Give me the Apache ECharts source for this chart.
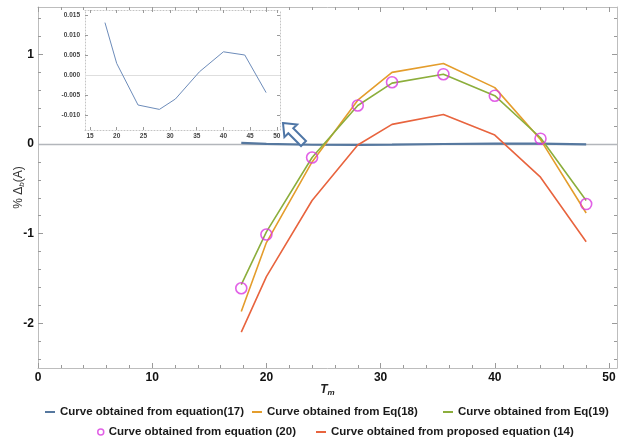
<!DOCTYPE html>
<html>
<head>
<meta charset="utf-8">
<script src="https://cdn.jsdelivr.net/npm/echarts@6/dist/echarts.min.js"></script>
<style>
  html, body { margin: 0; padding: 0; background: #fff; }
  #chart { width: 619px; height: 446px; }
</style>
</head>
<body>
<div id="chart"></div>
<script>
// Melting temperature samples and the relative deviation from each model
const tm   = [17.8, 20, 24, 28, 31, 35.5, 40, 44, 48];
const eq17 = [0.0131, 0.0029, -0.0075, -0.0086, -0.0060, 0.0008, 0.0058, 0.0050, -0.0044];
const eq18 = [-1.87, -1.10, -0.20, 0.49, 0.80, 0.90, 0.63, 0.05, -0.77];
const eq19 = [-1.57, -0.98, -0.15, 0.43, 0.68, 0.78, 0.54, 0.07, -0.63];
const eq20 = [-1.61, -1.01, -0.15, 0.43, 0.69, 0.78, 0.54, 0.06, -0.67];
const eq14 = [-2.10, -1.48, -0.63, -0.01, 0.22, 0.33, 0.10, -0.37, -1.09];

// Tick labels of the main frame and of the inset
const xTicks = [0, 10, 20, 30, 40, 50];
const yTicks = [-2, -1, 0, 1];
const insetXTicks = [15, 20, 25, 30, 35, 40, 45, 50];
const insetYTicks = [-0.010, -0.005, 0.000, 0.005, 0.010, 0.015];

const N17 = 'Curve obtained from equation(17)';
const N18 = 'Curve obtained from Eq(18)';
const N19 = 'Curve obtained from Eq(19)';
const N20 = 'Curve obtained from equation (20)';
const N14 = 'Curve obtained from proposed equation (14)';

const C17 = '#56789f', C18 = '#e49d2c', C19 = '#8cae3c', C20 = '#d93ae0', C14 = '#e8643e';

// minor tick positions between the labelled ones
function minorTicks(lo, hi, step, major) {
  const out = [];
  for (let k = Math.ceil(lo / step - 1e-9); k * step <= hi + 1e-9; k++) {
    const v = +(k * step).toFixed(6);
    const r = v / major;
    if (Math.abs(r - Math.round(r)) > 1e-6) out.push(v);
  }
  return out;
}

const pairs = ys => tm.map((t, i) => [t, ys[i]]);

const X_MIN = 0, X_MAX = 50.7, Y_MIN = -2.5, Y_MAX = 1.53;
const IX_MIN = 14.06, IX_MAX = 50.6, IY_MIN = -0.01375, IY_MAX = 0.01625;

const frameColor = '#bdbdbd';
const tickColor = '#9a9a9a';

function axis(dim, grid, pos, min, max, ticks, len, extra) {
  const a = {
    type: 'value', gridIndex: grid, position: pos, min: min, max: max,
    axisLine: { show: false, onZero: false },
    axisTick: { show: true, inside: true, length: len, customValues: ticks,
                lineStyle: { color: tickColor, width: 1 } },
    axisLabel: { show: false },
    splitLine: { show: false }
  };
  return Object.assign(a, extra || {});
}

const mainLine = { show: true, onZero: false, lineStyle: { color: frameColor, width: 1 } };
const insetLine = { show: true, onZero: false, lineStyle: { color: '#c4c4c4', width: 1, type: [1, 2] } };
const mainLabel = { show: true, fontSize: 12, fontWeight: 'bold', color: '#111',
                    fontFamily: 'Liberation Sans, Arial, sans-serif' };
const insetLabel = { show: true, fontSize: 6.5, fontWeight: 'bold', color: '#444',
                     fontFamily: 'Liberation Sans, Arial, sans-serif' };

const xMinor = minorTicks(X_MIN, X_MAX, 2, 10);
const yMinor = minorTicks(Y_MIN, Y_MAX, 0.2, 1);

const xAxes = [
  axis('x', 0, 'bottom', X_MIN, X_MAX, xTicks, 5, {
    axisLine: mainLine,
    axisLabel: Object.assign({ customValues: xTicks, margin: 4 }, mainLabel),
    name: '{t|T}{s|m}', nameLocation: 'middle', nameGap: 15, nameMoveOverlap: false,
    nameTextStyle: { rich: {
      t: { fontSize: 12, fontStyle: 'italic', fontWeight: 'bold', color: '#222', fontFamily: 'Liberation Sans' },
      s: { fontSize: 8, fontStyle: 'italic', fontWeight: 'bold', color: '#222', fontFamily: 'Liberation Sans', padding: [6, 0, 0, 0] }
    } }
  }),
  axis('x', 0, 'bottom', X_MIN, X_MAX, xMinor, 3),
  axis('x', 0, 'top', X_MIN, X_MAX, xTicks, 5, { axisLine: mainLine }),
  axis('x', 0, 'top', X_MIN, X_MAX, xMinor, 3),
  axis('x', 1, 'bottom', IX_MIN, IX_MAX, insetXTicks, 3, {
    axisLine: insetLine,
    axisLabel: Object.assign({ customValues: insetXTicks, margin: 3 }, insetLabel)
  }),
  axis('x', 1, 'top', IX_MIN, IX_MAX, insetXTicks, 3, { axisLine: insetLine })
];

const yAxes = [
  axis('y', 0, 'left', Y_MIN, Y_MAX, yTicks, 5, {
    axisLine: mainLine,
    axisLabel: Object.assign({ customValues: yTicks, margin: 4 }, mainLabel),
    name: '{n|% Δ}{s|b}{n|(A)}', nameLocation: 'middle', nameGap: 12, nameRotate: 90,
    nameMoveOverlap: false,
    nameTextStyle: { rich: {
      n: { fontSize: 12, color: '#333', fontFamily: 'Liberation Sans' },
      s: { fontSize: 8, fontStyle: 'italic', color: '#333', fontFamily: 'Liberation Sans', padding: [6, 0, 0, 0] }
    } }
  }),
  axis('y', 0, 'left', Y_MIN, Y_MAX, yMinor, 3),
  axis('y', 0, 'right', Y_MIN, Y_MAX, yTicks, 5, { axisLine: mainLine }),
  axis('y', 0, 'right', Y_MIN, Y_MAX, yMinor, 3),
  axis('y', 1, 'left', IY_MIN, IY_MAX, insetYTicks, 3, {
    axisLine: insetLine,
    axisLabel: Object.assign({ customValues: insetYTicks, margin: 5,
                               formatter: v => v.toFixed(3) }, insetLabel)
  }),
  axis('y', 1, 'right', IY_MIN, IY_MAX, insetYTicks, 3, { axisLine: insetLine })
];

function lineSeries(name, ys, color, width, xi, yi, extra) {
  return Object.assign({
    name: name, type: 'line', data: pairs(ys), xAxisIndex: xi, yAxisIndex: yi,
    symbol: 'none', showSymbol: false, smooth: false, z: 3,
    lineStyle: { color: color, width: width }, itemStyle: { color: color }
  }, extra || {});
}

// horizontal reference line at zero, kept underneath the curves
function zeroLine(xi, yi, color, width) {
  return {
    type: 'line', data: [], xAxisIndex: xi, yAxisIndex: yi, z: 1, silent: true,
    markLine: { silent: true, z: 1, symbol: 'none', label: { show: false },
                lineStyle: { color: color, width: width, type: 'solid' },
                data: [{ yAxis: 0 }] }
  };
}

const legendText = { fontSize: 11.5, fontWeight: 'bold', color: '#1a1a1a',
                     fontFamily: 'Liberation Sans, Arial, sans-serif' };
function legendFor(name, left, top, icon) {
  return {
    left: left, top: top, orient: 'horizontal', selectedMode: false,
    itemWidth: icon ? 6 : 10, itemHeight: icon ? 6 : 2, padding: 0,
    textStyle: legendText,
    data: [icon ? { name: name, icon: 'circle',
                    itemStyle: { color: 'transparent', borderColor: C20, borderWidth: 1.5 } }
                : { name: name, icon: 'rect' }]
  };
}

const option = {
  animation: false,
  backgroundColor: '#fff',
  grid: [
    { left: 38, top: 7, right: 2, bottom: 78, containLabel: false, outerBoundsMode: 'none' },
    { left: 85, top: 10, width: 195, height: 120, containLabel: false, outerBoundsMode: 'none' }
  ],
  xAxis: xAxes,
  yAxis: yAxes,
  legend: [
    legendFor(N17, 45, 406),
    legendFor(N18, 252, 406),
    legendFor(N19, 443, 406),
    legendFor(N20, 97, 426, true),
    legendFor(N14, 316, 426)
  ],
  series: [
    zeroLine(0, 0, '#b3b6bb', 1.3),
    zeroLine(4, 4, '#dedede', 1),
    lineSeries(N17, eq17, C17, 2.2, 0, 0),
    lineSeries(N18, eq18, C18, 1.6, 0, 0),
    lineSeries(N19, eq19, C19, 1.6, 0, 0),
    lineSeries(N14, eq14, C14, 1.6, 0, 0),
    {
      name: N20, type: 'scatter', data: pairs(eq20), xAxisIndex: 0, yAxisIndex: 0,
      symbol: 'circle', symbolSize: 11, z: 4,
      itemStyle: { color: 'transparent', borderColor: C20, borderWidth: 1.6 }
    },
    lineSeries(N17, eq17, '#6d8cba', 1, 4, 4)
  ],
  graphic: [
    {
      // hollow arrow pointing from the zero line up to the inset
      type: 'polygon', x: 283, y: 123, rotation: -Math.PI / 4,
      shape: { points: [[0, 0], [11, -9], [11, -3.5], [29, -3.5], [29, 3.5], [11, 3.5], [11, 9]] },
      style: { fill: '#fff', stroke: '#4f76a6', lineWidth: 2 },
      z: 100
    }
  ]
};

const chart = echarts.init(document.getElementById('chart'), null, { renderer: 'canvas' });
chart.setOption(option);
</script>
</body>
</html>
